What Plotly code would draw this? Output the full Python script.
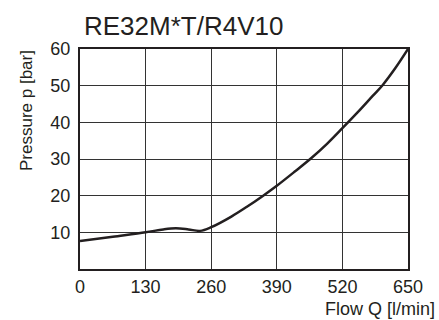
import plotly.graph_objects as go

# Data
flow_q = [0, 65, 130, 165, 190, 215, 238, 260, 300, 330, 363, 390, 425, 458, 490, 520, 550, 580, 600, 625, 650]
pressure_p = [7.6, 8.8, 10.0, 10.8, 11.1, 10.8, 10.4, 11.4, 14.3, 16.9, 20.0, 22.7, 26.5, 30.2, 34.2, 38.4, 42.7, 47.2, 50.2, 54.8, 60.0]

x_ticks = [0, 130, 260, 390, 520, 650]
y_ticks = [10, 20, 30, 40, 50, 60]

title_text = "RE32M*T/R4V10"
x_title = "Flow Q [l/min]"
y_title = "Pressure p [bar]"

FONT = "Liberation Sans, Arial, Helvetica, sans-serif"
INK = "#231f20"

fig = go.Figure()
fig.add_trace(go.Scatter(
    x=flow_q, y=pressure_p, mode="lines",
    line=dict(color=INK, width=2.5, shape="spline", smoothing=1.0),
    hoverinfo="skip", showlegend=False,
))

W, H = 439, 320
L, R, T, B = 80, 31, 49, 51

fig.update_layout(
    width=W, height=H,
    margin=dict(l=L, r=R, t=T, b=B, pad=0),
    paper_bgcolor="white", plot_bgcolor="white",
    font=dict(family=FONT, size=18, color=INK),
    title=dict(text=title_text, x=84 / W, xanchor="left", xref="container",
               y=1 - 25.5 / H, yanchor="middle", yref="container",
               font=dict(family=FONT, size=26, color=INK)),
    showlegend=False,
)

fig.update_xaxes(
    range=[0, 650], tickvals=x_ticks, ticktext=[str(v) for v in x_ticks],
    showgrid=True, gridcolor="#333333", gridwidth=1,
    showline=True, linecolor=INK, linewidth=2, mirror=True,
    ticks="", ticklabelstandoff=0, zeroline=False,
    tickfont=dict(family=FONT, size=18, color=INK),
)
fig.update_yaxes(
    range=[0, 60], tickvals=y_ticks, ticktext=[str(v) for v in y_ticks],
    showgrid=True, gridcolor="#333333", gridwidth=1,
    showline=True, linecolor=INK, linewidth=2, mirror=True,
    ticks="", ticklabelstandoff=4, zeroline=False,
    tickfont=dict(family=FONT, size=18, color=INK),
)

plot_w = W - L - R
plot_h = H - T - B
fig.add_annotation(
    text=x_title, xref="paper", yref="paper",
    x=(437 - L) / plot_w, y=-(309 - (H - B)) / plot_h,
    xanchor="right", yanchor="middle", showarrow=False,
    font=dict(family=FONT, size=18, color=INK),
)
fig.add_annotation(
    text=y_title, xref="paper", yref="paper",
    x=(26 - L) / plot_w, y=((H - B) - 111) / plot_h,
    xanchor="center", yanchor="middle", textangle=-90, showarrow=False,
    font=dict(family=FONT, size=17, color=INK),
)

fig.write_html(
    "out.html",
    config={"displayModeBar": False},
    post_script="document.body.style.margin='0';document.body.style.padding='0';",
)
